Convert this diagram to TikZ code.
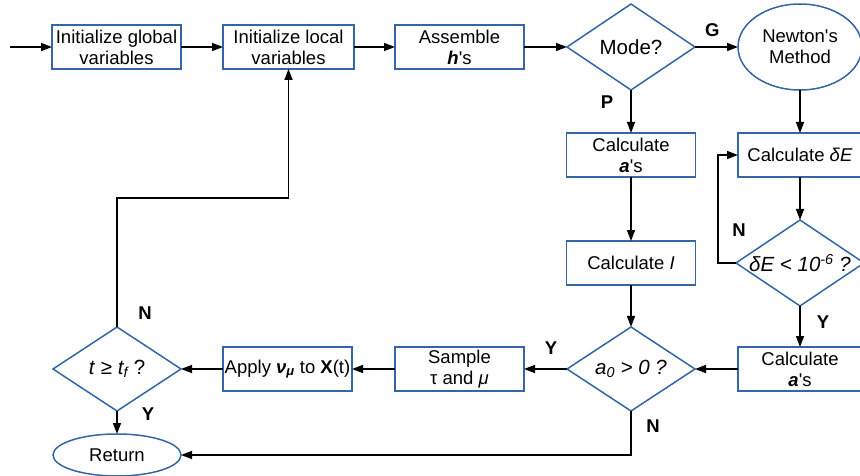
\documentclass[tikz,border=0pt]{standalone}
\usepackage{fontspec}
\setmainfont{Liberation Sans}
\usetikzlibrary{shapes.geometric,arrows.meta,positioning,calc}
\definecolor{flowblue}{HTML}{3465A4}

\begin{document}
\begin{tikzpicture}[x=1pt,y=-1pt,font=\fontsize{18.5}{21}\selectfont]

% Definitions
\tikzstyle{process} = [rectangle, minimum width=129pt, minimum height=44pt, inner sep=1pt, outer sep=0pt, text centered, align=center, draw=flowblue, line width=1.5pt]
\tikzstyle{decision} = [diamond, aspect=1.49, minimum width=128pt, minimum height=84pt, inner sep=0pt, outer sep=0pt, text centered, draw=flowblue, line width=1.5pt, font=\fontsize{20.5}{23}\selectfont]
\tikzstyle{terminal} = [ellipse, minimum width=128pt, minimum height=42pt, inner sep=0pt, outer sep=0pt, text centered, align=center, draw=flowblue, line width=1.5pt]
\tikzstyle{arrow} = [line width=1.5pt,-{Triangle[length=11pt,width=8pt]}]
\tikzstyle{answer} = [font=\fontsize{18.5}{21}\selectfont\bfseries, inner sep=0pt]

\useasboundingbox (0,0) rectangle (860,476);

% Top row
\node (init_g) [process] at (116.5,47) {Initialize global\\variables};
\node (init_l) [process, right=42pt of init_g, minimum width=131pt] {Initialize local\\variables};
\node (assemble) [process, right=41pt of init_l] {Assemble\\\textbf{\textit{h}}\textquotesingle s};
\node (mode) [decision, minimum height=86pt, right=43pt of assemble] {Mode?};
\node (newton) [terminal, right=43pt of mode, minimum width=124pt, minimum height=86pt] {Newton\textquotesingle s\\Method};

% Middle column
\node (calc_a) [process, below=43pt of mode] {Calculate\\\textbf{\textit{a}}\textquotesingle s};
\node (calc_I) [process, below=64pt of calc_a] {Calculate \textit{I}};
\node (a0_test) [decision, below=42pt of calc_I] {\textit{a\textsubscript{0} > 0 ?}};

% Right column
\node (calc_dE) [process, below=43pt of newton, minimum width=124pt] {Calculate \textit{δE}};
\node (dE_test) [decision, below=43pt of calc_dE, minimum width=124pt] {\textit{δE < 10\textsuperscript{-6} ?}};
\node (calc_a2) [process, right=43pt of a0_test, minimum width=124pt] {Calculate\\\textbf{\textit{a}}\textquotesingle s};

% Bottom row
\node (sample) [process, left=43pt of a0_test] {Sample\\τ and \textit{μ}};
\node (apply) [process, left=43pt of sample] {Apply \textbf{\textit{ν}}\textsubscript{\textbf{\textit{μ}}} to \textbf{X}(t)};
\node (t_test) [decision, left=42pt of apply] {\textit{t} ≥ \textit{t\textsubscript{f}} ?};
\node (return) [terminal, below=23pt of t_test] {Return};

\coordinate [left=42pt of init_g] (start);

% Connectors
\draw [arrow] (start) -- (init_g);
\draw [arrow] (init_g) -- (init_l);
\draw [arrow] (init_l) -- (assemble);
\draw [arrow] (assemble) -- (mode);
\draw [arrow] (mode) -- node[answer, above=10pt, pos=0.4] {G} (newton);
\draw [arrow] (mode) -- node[answer, left=17pt, pos=0.28] {P} (calc_a);
\draw [arrow] (calc_a) -- (calc_I);
\draw [arrow] (calc_I) -- (a0_test);
\draw [arrow] (newton) -- (calc_dE);
\draw [arrow] (calc_dE) -- (dE_test);
\draw [arrow] (dE_test) -- node[answer, right=16pt, pos=0.39] {Y} (calc_a2);
\draw [arrow] (dE_test.west) -- ++(-18pt,0) |- (calc_dE.west);
\draw [arrow] (calc_a2) -- (a0_test);
\draw [arrow] (a0_test) -- node[answer, above=14pt, pos=0.37] {Y} (sample);
\draw [arrow] (a0_test.south) |- (return.east);
\draw [arrow] (sample) -- (apply);
\draw [arrow] (apply) -- (t_test);
\draw [arrow] (t_test.north) -- ++(0,129pt) -| (init_l.south);
\draw [arrow] (t_test) -- (return);

% Remaining answers
\node [answer] at ($(dE_test.west)+(3pt,33pt)$) {N};
\node [answer] at ($(a0_test.south)+(22pt,-15pt)$) {N};
\node [answer] at ($(t_test.north)+(28pt,14pt)$) {N};
\node [answer] at ($(t_test.south)+(31pt,-3pt)$) {Y};

\end{tikzpicture}
\end{document}
